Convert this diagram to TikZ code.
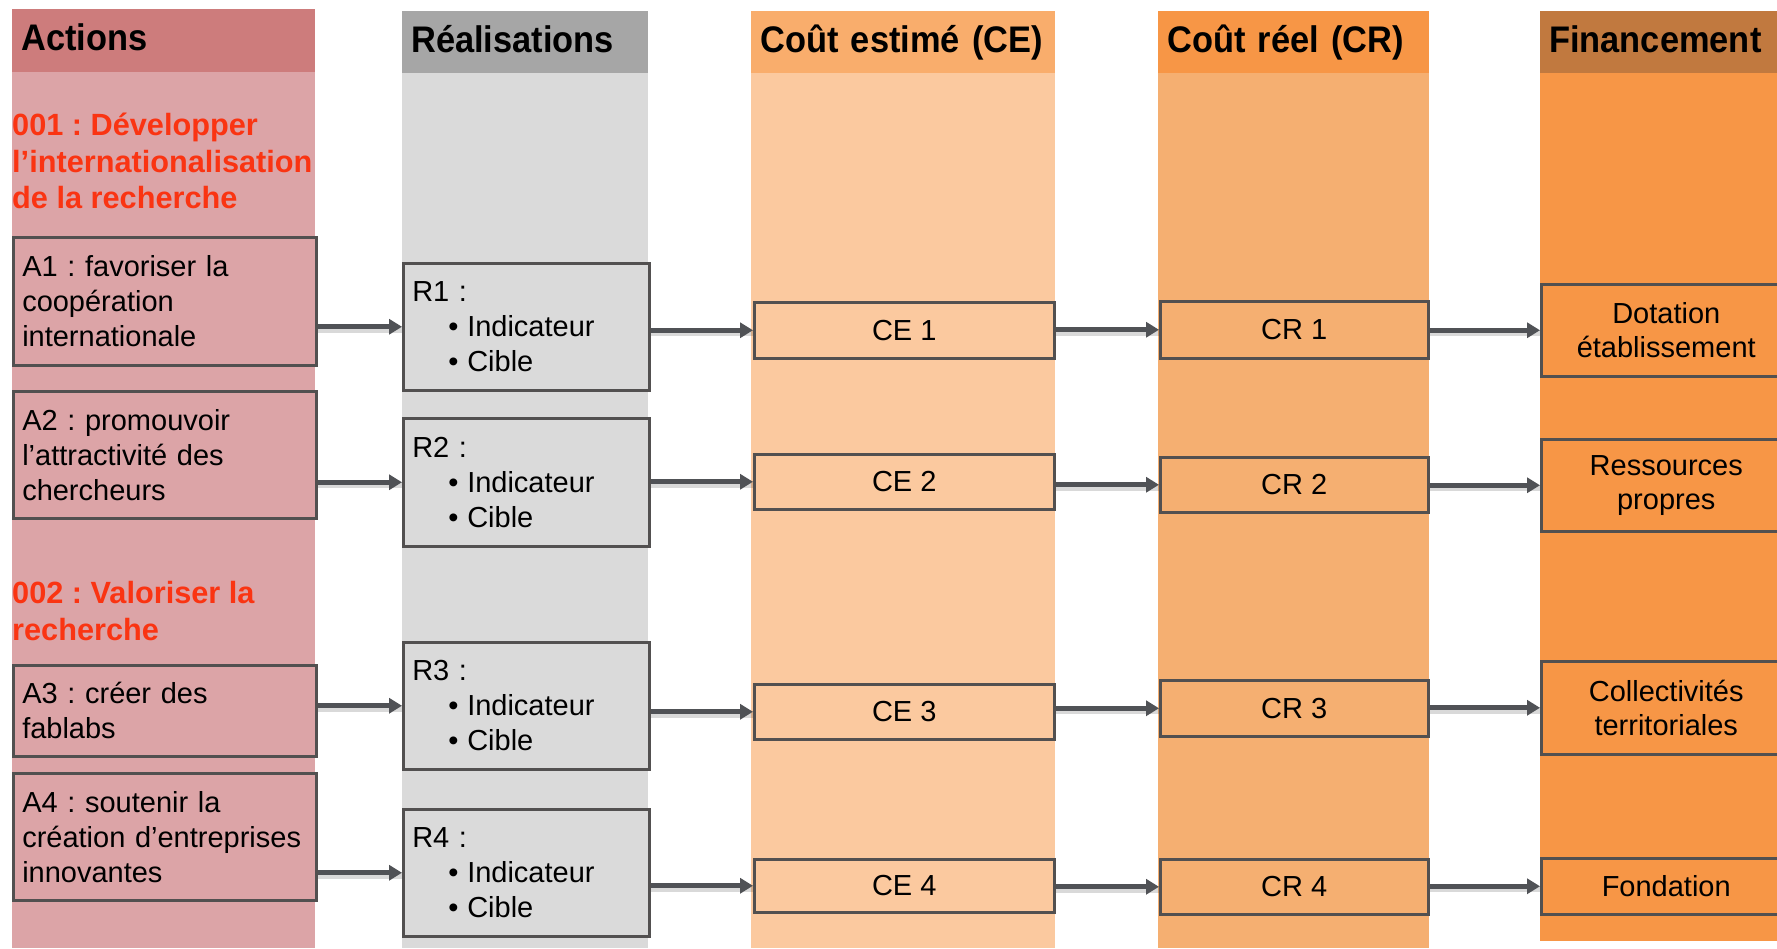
\documentclass[tikz,border=0pt]{standalone}
\usepackage{fontspec}
\setmainfont{Liberation Sans}
\newfontfamily\hdfont{Liberation Sans}[FakeStretch=0.93]
\usetikzlibrary{arrows.meta}
\frenchspacing
\definecolor{acthead}{RGB}{205,124,124}
\definecolor{actbody}{RGB}{220,164,167}
\definecolor{realhead}{RGB}{166,166,166}
\definecolor{realbody}{RGB}{218,218,218}
\definecolor{cehead}{RGB}{249,173,108}
\definecolor{cebody}{RGB}{251,201,159}
\definecolor{crhead}{RGB}{247,150,70}
\definecolor{crbody}{RGB}{245,175,113}
\definecolor{finhead}{RGB}{193,121,63}
\definecolor{finbody}{RGB}{247,150,70}
\definecolor{redtxt}{RGB}{250,52,18}
\definecolor{edgec}{RGB}{82,80,80}
\definecolor{arrowc}{RGB}{80,82,86}
\newcommand\rbul[1]{\hspace*{36pt}\makebox[19pt][l]{\textbullet}#1}
\tikzset{
  hdr/.style={anchor=north west, inner xsep=9pt, inner ysep=0pt, align=left,
    text height=27pt, text depth=7pt,
    font=\hdfont\bfseries\fontsize{37}{40}\selectfont},
  redt/.style={anchor=north west, inner sep=0pt, align=left, text=redtxt,
    font=\bfseries\fontsize{30.7}{36.8}\selectfont},
  lbox/.style={anchor=north west, draw=edgec, line width=2.5pt, inner xsep=9pt,
    inner ysep=0pt, align=left, font=\fontsize{29}{35}\selectfont},
  cbox/.style={anchor=north west, draw=edgec, line width=2.5pt, inner sep=0pt,
    align=center, font=\fontsize{29}{34}\selectfont},
  arr/.style={draw=arrowc, line width=5pt, -{Triangle[length=13pt,width=15pt]},
    preaction={draw=black, draw opacity=0.15, line width=6pt, -,
      transform canvas={yshift=-3pt}}},
}
\begin{document}
\begin{tikzpicture}[x=1pt,y=-1pt]
\useasboundingbox (0,0) rectangle (1777,948);
\clip (0,0) rectangle (1777,948);
\fill[white] (0,0) rectangle (1777,948);
% column bodies
\fill[actbody] (12,72) rectangle (315,948);
\fill[realbody] (402,73) rectangle (648,948);
\fill[cebody] (751,73) rectangle (1055,948);
\fill[crbody] (1158,73) rectangle (1429,948);
\fill[finbody] (1540,73) rectangle (1800,941);
% headers
\node[hdr, fill=acthead, text width=285pt, minimum height=63pt] (hA) at (12,9) {Actions};
\node[hdr, fill=realhead, text width=228pt, minimum height=62pt] (hR) at (402,11) {Réalisations};
\node[hdr, fill=cehead, text width=286pt, minimum height=62pt] (hCE) at (751,11) {Coût estimé (CE)};
\node[hdr, fill=crhead, text width=253pt, minimum height=62pt] (hCR) at (1158,11) {Coût réel (CR)};
\node[hdr, fill=finhead, text width=242pt, minimum height=62pt] (hF) at (1540,11) {Financement};
% red objectives
\node[redt] (o1) at (12,112.5) {001 : Développer\\l’internationalisation\\de la recherche};
\node[redt] (o2) at (12,581) {002 : Valoriser la\\recherche};
% action boxes
\node[lbox, fill=actbody, text width=285pt, minimum height=128pt] (A1) at (12,236) {A1 : favoriser la\\coopération\\internationale};
\node[lbox, fill=actbody, text width=285pt, minimum height=127pt] (A2) at (12,390) {A2 : promouvoir\\l’attractivité des\\chercheurs};
\node[lbox, fill=actbody, text width=285pt, minimum height=91pt] (A3) at (12,664) {A3 : créer des\\fablabs};
\node[lbox, fill=actbody, text width=285pt, minimum height=127pt] (A4) at (12,772) {A4 : soutenir la\\création d’entreprises\\innovantes};
% realisation boxes
\node[lbox, fill=realbody, text width=228pt, minimum height=127pt] (R1) at (402,262) {R1 :\\\rbul{Indicateur}\\\rbul{Cible}};
\node[lbox, fill=realbody, text width=228pt, minimum height=128pt] (R2) at (402,417) {R2 :\\\rbul{Indicateur}\\\rbul{Cible}};
\node[lbox, fill=realbody, text width=228pt, minimum height=127pt] (R3) at (402,641) {R3 :\\\rbul{Indicateur}\\\rbul{Cible}};
\node[lbox, fill=realbody, text width=228pt, minimum height=127pt] (R4) at (402,808) {R4 :\\\rbul{Indicateur}\\\rbul{Cible}};
% CE boxes
\node[cbox, fill=cebody, minimum width=300pt, minimum height=56pt] (CE1) at (753,301) {CE 1};
\node[cbox, fill=cebody, minimum width=300pt, minimum height=55pt] (CE2) at (753,453) {CE 2};
\node[cbox, fill=cebody, minimum width=300pt, minimum height=55pt] (CE3) at (753,683) {CE 3};
\node[cbox, fill=cebody, minimum width=300pt, minimum height=53pt] (CE4) at (753,858) {CE 4};
% CR boxes
\node[cbox, fill=crbody, minimum width=268pt, minimum height=57pt] (CR1) at (1159,300) {CR 1};
\node[cbox, fill=crbody, minimum width=268pt, minimum height=55pt] (CR2) at (1159,456) {CR 2};
\node[cbox, fill=crbody, minimum width=268pt, minimum height=56pt] (CR3) at (1159,679) {CR 3};
\node[cbox, fill=crbody, minimum width=268pt, minimum height=55pt] (CR4) at (1159,858) {CR 4};
% financement boxes
\node[cbox, fill=finbody, minimum width=250pt, minimum height=92pt] (F1) at (1540,283) {Dotation\\établissement};
\node[cbox, fill=finbody, minimum width=250pt, minimum height=92pt] (F2) at (1540,438) {Ressources\\propres};
\node[cbox, fill=finbody, minimum width=250pt, minimum height=93pt] (F3) at (1540,660) {Collectivités\\territoriales};
\node[cbox, fill=finbody, minimum width=250pt, minimum height=56pt] (F4) at (1540,857) {Fondation};
% arrows
\foreach \i in {1,2,3,4}{
  \draw[arr] (A\i.east |- R\i.west) -- (R\i.west);
  \draw[arr] (R\i.east |- CE\i.west) -- (CE\i.west);
  \draw[arr] (CE\i.east |- CR\i.west) -- (CR\i.west);
  \draw[arr] (CR\i.east |- F\i.west) -- (F\i.west);
}
\end{tikzpicture}
\end{document}
